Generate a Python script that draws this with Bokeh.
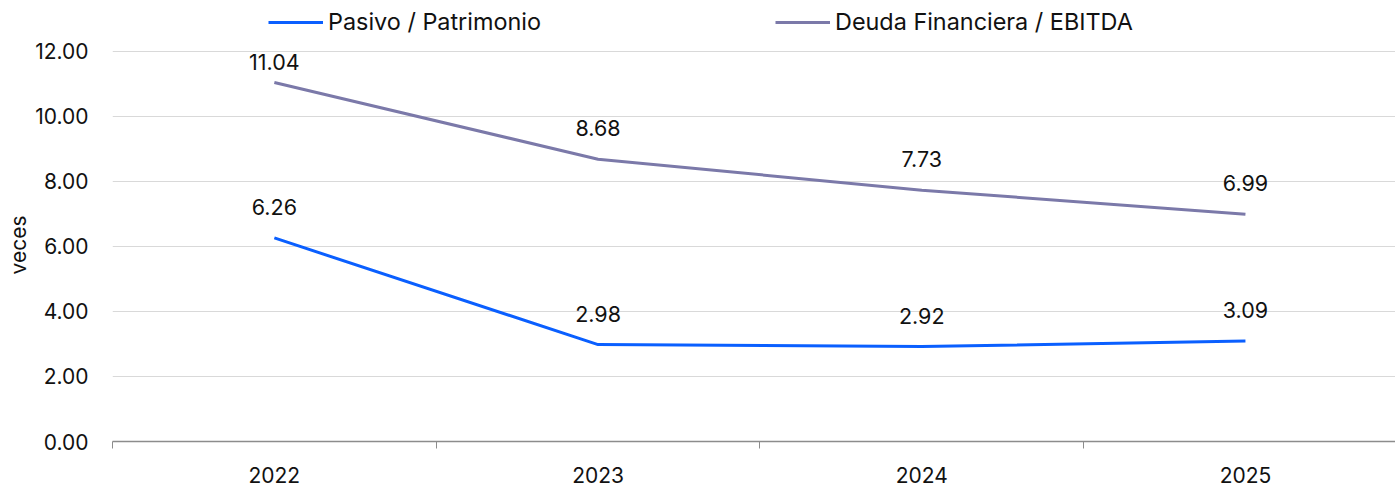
from bokeh.plotting import figure
from bokeh.models import (ColumnDataSource, Range1d, FixedTicker, Legend, LegendItem,
                          LabelSet, Title)
from bokeh.core.properties import value
from bokeh.embed import file_html
from bokeh.resources import INLINE

years = ["2022", "2023", "2024", "2025"]
pasivo_patrimonio = [6.26, 2.98, 2.92, 3.09]
deuda_ebitda = [11.04, 8.68, 7.73, 6.99]
y_ticks = [0, 2, 4, 6, 8, 10, 12]
series_names = ["Pasivo / Patrimonio", "Deuda Financiera / EBITDA"]
y_title = "veces"

FONT = "Inter"
FS_AX = "21px"
FS_LBL = "21.5px"
FS_LEG = "23.4px"
BLUE = "#0a5fff"
PURPLE = "#7b79a9"
TXT = "#111111"

W, H = 1395, 485
LEFT, TOP, BOTTOM = 112, 8, 42
frame_w = W - LEFT
frame_h = H - TOP - BOTTOM
cat_px = 323.7
y_max_tick = 12
grid_px = 392  # pixel height from 0 to 12
px_per_unit = grid_px / y_max_tick
y_top = frame_h / px_per_unit

xs = [i + 0.5 for i in range(len(years))]

p = figure(width=W, height=H, output_backend="svg", toolbar_location=None,
           x_range=Range1d(0, frame_w / cat_px), y_range=Range1d(0, y_top),
           min_border_left=LEFT, min_border_right=0, min_border_top=TOP,
           min_border_bottom=BOTTOM)
p.outline_line_color = None
p.background_fill_color = "white"
p.border_fill_color = "white"

# x axis
p.xaxis.ticker = FixedTicker(ticks=xs, minor_ticks=list(range(len(years))))
p.xaxis.major_label_overrides = {x: y for x, y in zip(xs, years)}
p.xaxis.major_tick_line_color = None
p.xaxis.major_tick_in = 0
p.xaxis.major_tick_out = 0
p.xaxis.minor_tick_line_color = "#8c8c8c"
p.xaxis.minor_tick_in = 0
p.xaxis.minor_tick_out = 7
p.xaxis.axis_line_color = "#8c8c8c"
p.xaxis.axis_line_width = 1.5
p.xaxis.major_label_text_font = FONT
p.xaxis.major_label_text_font_size = FS_AX
p.xaxis.major_label_text_color = TXT
p.xaxis.major_label_standoff = 18
p.xgrid.grid_line_color = None

# y axis
p.yaxis.ticker = FixedTicker(ticks=y_ticks)
p.yaxis.major_label_overrides = {t: f"{t:.2f}" for t in y_ticks}
p.yaxis.axis_line_color = None
p.yaxis.major_tick_line_color = None
p.yaxis.major_tick_in = 0
p.yaxis.major_tick_out = 0
p.yaxis.minor_tick_line_color = None
p.yaxis.major_label_text_font = FONT
p.yaxis.major_label_text_font_size = FS_AX
p.yaxis.major_label_text_color = TXT
p.yaxis.major_label_standoff = 24
p.ygrid.grid_line_color = "#d9d9d9"
p.ygrid.grid_line_width = 1

# y axis title, centred on the 0-12 grid area
p.add_layout(Title(text=y_title, align="left", offset=167, standoff=4,
                   text_font=FONT, text_font_size="21px",
                   text_font_style="normal", text_color=TXT), "left")


def label_offsets(vals):
    offs = []
    for v in vals:
        ypx = (y_max_tick - v) * px_per_unit  # px below the top grid line
        center = max(ypx - 31, 11)
        offs.append(ypx - center)
    return offs


src1 = ColumnDataSource(dict(x=xs, y=pasivo_patrimonio,
                             t=[f"{v:.2f}" for v in pasivo_patrimonio],
                             off=label_offsets(pasivo_patrimonio)))
src2 = ColumnDataSource(dict(x=xs, y=deuda_ebitda,
                             t=[f"{v:.2f}" for v in deuda_ebitda],
                             off=label_offsets(deuda_ebitda)))

r1 = p.line("x", "y", source=src1, line_color=BLUE, line_width=3)
r2 = p.line("x", "y", source=src2, line_color=PURPLE, line_width=3)

for src in (src1, src2):
    lbl = LabelSet(x="x", y="y", text="t", source=src, y_offset="off",
                   text_align="center", text_baseline="middle",
                   text_font=value(FONT), text_font_size=FS_LBL, text_color=TXT)
    p.add_layout(lbl)

legend_y = frame_h - (24 - TOP) - 14
for name, r, lx in ((series_names[0], r1, 270), (series_names[1], r2, 777)):
    leg = Legend(items=[LegendItem(label=name, renderers=[r])],
                 orientation="horizontal", location=(lx - LEFT - 2, legend_y),
                 label_standoff=5, glyph_width=55, glyph_height=24,
                 padding=2, margin=0, border_line_color=None,
                 background_fill_alpha=0,
                 label_text_font=FONT, label_text_font_size=FS_LEG,
                 label_text_color=TXT)
    p.add_layout(leg, "center")

open("out.html", "w").write(file_html(p, INLINE))
